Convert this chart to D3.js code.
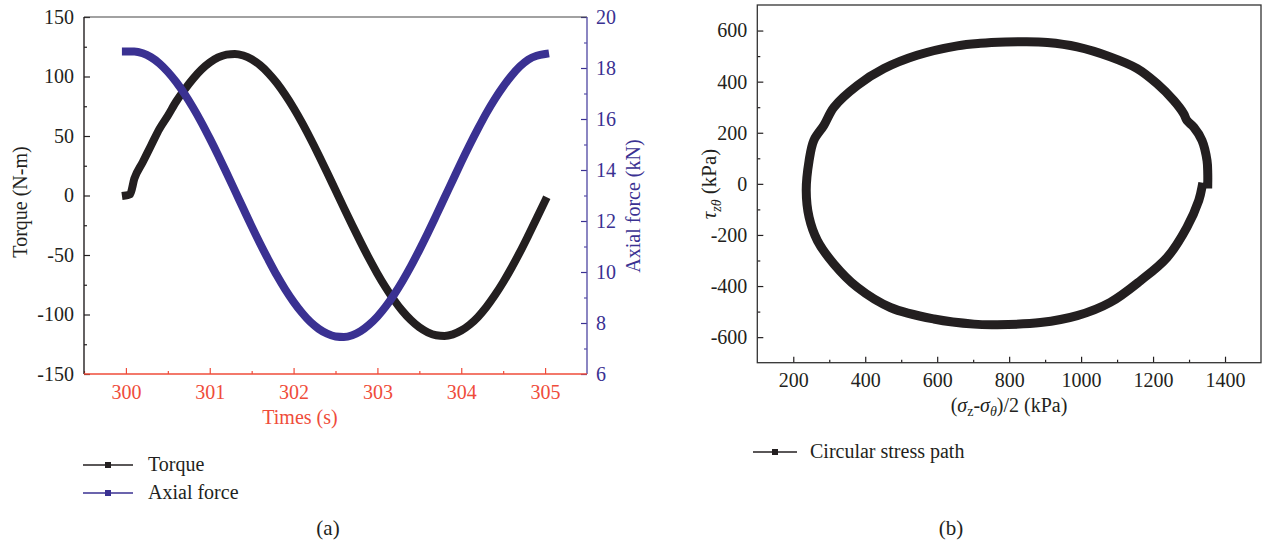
<!DOCTYPE html>
<html>
<head>
<meta charset="utf-8">
<script src="https://cdn.jsdelivr.net/npm/d3@7"></script>
<style>
	body { margin: 0; background: #fff; }
	text { font-family: "Liberation Serif", "DejaVu Serif", serif; fill: #231f20; }
</style>
</head>
<body>
<div id="visual"></div>
<script>

///// DATA /////

// (a) torque and axial force against time
var times = [300.0, 300.05, 300.1, 300.2, 300.3, 300.4, 300.5, 300.6, 300.7, 300.8, 300.9, 301.0,
	301.1, 301.2, 301.3, 301.4, 301.5, 301.6, 301.7, 301.8, 301.9, 302.0,
	302.1, 302.2, 302.3, 302.4, 302.5, 302.6, 302.7, 302.8, 302.9, 303.0,
	303.1, 303.2, 303.3, 303.4, 303.5, 303.6, 303.7, 303.8, 303.9, 304.0,
	304.1, 304.2, 304.3, 304.4, 304.5, 304.6, 304.7, 304.8, 304.9, 305.0];

var torque = [0, 1, 14, 28, 42, 56, 67, 79, 89, 98, 105.7, 111.7,
	116, 118.4, 119, 117.6, 114.5, 109.5, 102.8, 94.5, 84.6, 73.5,
	61.2, 47.9, 33.9, 19.4, 4.5, -10.4, -25, -39.2, -52.9, -65.7,
	-77.5, -88, -97.2, -104.8, -110.8, -115, -117.4, -118, -116.7, -113.5,
	-108.6, -102, -93.7, -83.9, -72.9, -60.7, -47.6, -33.6, -19.2, -4.5];

var axialForce = [18.65, 18.65, 18.65, 18.58, 18.42, 18.18, 17.85, 17.45, 16.98, 16.45, 15.87, 15.24,
	14.58, 13.89, 13.19, 12.49, 11.79, 11.12, 10.48, 9.87, 9.32, 8.83,
	8.40, 8.04, 7.77, 7.58, 7.47, 7.45, 7.52, 7.68, 7.93, 8.25,
	8.65, 9.12, 9.65, 10.23, 10.86, 11.52, 12.21, 12.91, 13.61, 14.31,
	14.98, 15.62, 16.23, 16.78, 17.27, 17.70, 18.06, 18.33, 18.48, 18.55];

var timeTicks = [300, 301, 302, 303, 304, 305];
var torqueTicks = [-150, -100, -50, 0, 50, 100, 150];
var forceTicks = [6, 8, 10, 12, 14, 16, 18, 20];

// (b) circular stress path
var sigmaHalf = [1352, 1352, 1350, 1336, 1313, 1294, 1285, 1257, 1211, 1156, 1081, 989, 906, 841, 790,
	720, 656, 544, 452, 378, 313, 285, 257, 244, 236, 244, 267, 313, 378, 470, 591, 702, 767,
	887, 989, 1081, 1165, 1239, 1294, 1327, 1336];
var tauZT = [0, 40, 91, 170, 222, 248, 275, 327, 392, 451, 497, 536, 553, 556, 555,
	550, 540, 503, 451, 385, 300, 229, 170, 91, -26, -131, -222, -314, -405, -484, -529, -549, -551,
	-543, -516, -464, -379, -288, -170, -65, -13];

var sigmaTicks = [200, 400, 600, 800, 1000, 1200, 1400];
var tauTicks = [-600, -400, -200, 0, 200, 400, 600];

///// COLOURS /////
var black = "#231f20",
	blue = "#3a3192",
	blueAxis = "#5a52a8",
	red = "#ef4c3a";

///// SVG /////
var svg = d3.select("#visual").append("svg")
	.attr("width", 1263)
	.attr("height", 545);

var plain = d => String(d);

///// PANEL (a) /////
var xA = d3.scaleLinear().domain([299.5, 305.5]).range([84, 587]);
var yTorque = d3.scaleLinear().domain([-150, 150]).range([374, 17]);
var yForce = d3.scaleLinear().domain([6, 20]).range([374, 17]);

function styleAxis(g, color, fontSize) {
	g.select(".domain").remove();
	g.selectAll("line").attr("stroke", color).attr("stroke-width", 1.2);
	g.selectAll("text")
		.style("font-family", '"Liberation Serif", serif')
		.style("font-size", fontSize + "px")
		.style("fill", color);
}

// minor ticks
svg.append("g").attr("transform", "translate(84,0)")
	.call(d3.axisLeft(yTorque).tickValues(d3.range(-125, 150, 50)).tickSize(-3).tickFormat(""))
	.call(g => styleAxis(g, black, 20));
svg.append("g").attr("transform", "translate(587,0)")
	.call(d3.axisRight(yForce).tickValues([7, 9, 11, 13, 15, 17, 19]).tickSize(-3).tickFormat(""))
	.call(g => styleAxis(g, blueAxis, 20));
svg.append("g").attr("transform", "translate(0,374)")
	.call(d3.axisBottom(xA).tickValues([299.5, 300.5, 301.5, 302.5, 303.5, 304.5]).tickSize(-3).tickFormat(""))
	.call(g => styleAxis(g, red, 20));

// major ticks
svg.append("g").attr("transform", "translate(84,0)")
	.call(d3.axisLeft(yTorque).tickValues(torqueTicks).tickSize(-6).tickPadding(10).tickFormat(plain))
	.call(g => styleAxis(g, black, 20));
svg.append("g").attr("transform", "translate(587,0)")
	.call(d3.axisRight(yForce).tickValues(forceTicks).tickSize(-6).tickPadding(9).tickFormat(plain))
	.call(g => styleAxis(g, blue, 20));
svg.append("g").attr("transform", "translate(0,374)")
	.call(d3.axisBottom(xA).tickValues(timeTicks).tickSize(-6).tickPadding(11).tickFormat(plain))
	.call(g => styleAxis(g, red, 20));

// frame lines
svg.append("line").attr("x1", 84).attr("x2", 587).attr("y1", 17).attr("y2", 17)
	.attr("stroke", "#444").attr("stroke-width", 1.2);
svg.append("line").attr("x1", 84).attr("x2", 84).attr("y1", 17).attr("y2", 374)
	.attr("stroke", black).attr("stroke-width", 1.4);
svg.append("line").attr("x1", 587).attr("x2", 587).attr("y1", 17).attr("y2", 374)
	.attr("stroke", blueAxis).attr("stroke-width", 1.4);
svg.append("line").attr("x1", 84).attr("x2", 587).attr("y1", 374).attr("y2", 374)
	.attr("stroke", red).attr("stroke-width", 1.4);

// series
var torqueLine = d3.line()
	.x((d, i) => xA(times[i]))
	.y(d => yTorque(d))
	.curve(d3.curveMonotoneX);
var forceLine = d3.line()
	.x((d, i) => xA(times[i]))
	.y(d => yForce(d))
	.curve(d3.curveMonotoneX);

svg.append("path").datum(torque)
	.attr("d", torqueLine)
	.attr("fill", "none").attr("stroke", black).attr("stroke-width", 8)
	.attr("stroke-linecap", "square");
svg.append("path").datum(axialForce)
	.attr("d", forceLine)
	.attr("fill", "none").attr("stroke", blue).attr("stroke-width", 8)
	.attr("stroke-linecap", "square");

// axis titles
svg.append("text")
	.attr("transform", "translate(27,202) rotate(-90)")
	.style("text-anchor", "middle").style("font-size", "20px")
	.text("Torque (N-m)");
svg.append("text")
	.attr("transform", "translate(640,206) rotate(-90)")
	.style("text-anchor", "middle").style("font-size", "20px").style("fill", blue)
	.text("Axial force (kN)");
svg.append("text")
	.attr("x", 300).attr("y", 424)
	.style("text-anchor", "middle").style("font-size", "20px").style("fill", red)
	.text("Times (s)");

///// LEGEND (a) /////
var legendA = [{ name: "Torque", color: black }, { name: "Axial force", color: blue }];
var legA = svg.selectAll(".legA").data(legendA).enter().append("g")
	.attr("class", "legA")
	.attr("transform", (d, i) => "translate(83," + (465 + i * 28) + ")");
legA.append("line").attr("x1", 0).attr("x2", 50)
	.attr("stroke", d => d.color).attr("stroke-width", 1.3);
legA.append("rect").attr("x", 22).attr("y", -3).attr("width", 6).attr("height", 6)
	.attr("fill", d => d.color);
legA.append("text").attr("x", 65).attr("y", 6)
	.style("font-size", "20px")
	.text(d => d.name);

svg.append("text").attr("x", 328).attr("y", 535)
	.style("text-anchor", "middle").style("font-size", "21px")
	.text("(a)");

///// PANEL (b) /////
var xB = d3.scaleLinear().domain([100, 1500]).range([757.3, 1261]);
var yB = d3.scaleLinear().domain([-700, 700]).range([362.7, 5]);

svg.append("g").attr("transform", "translate(757.3,0)")
	.call(d3.axisLeft(yB).tickValues(d3.range(-500, 700, 200)).tickSize(-3).tickFormat(""))
	.call(g => styleAxis(g, black, 20));
svg.append("g").attr("transform", "translate(0,362.7)")
	.call(d3.axisBottom(xB).tickValues(d3.range(300, 1500, 200)).tickSize(-3).tickFormat(""))
	.call(g => styleAxis(g, black, 20));
svg.append("g").attr("transform", "translate(757.3,0)")
	.call(d3.axisLeft(yB).tickValues(tauTicks).tickSize(-6).tickPadding(10).tickFormat(plain))
	.call(g => styleAxis(g, black, 20));
svg.append("g").attr("transform", "translate(0,362.7)")
	.call(d3.axisBottom(xB).tickValues(sigmaTicks).tickSize(-6).tickPadding(10).tickFormat(plain))
	.call(g => styleAxis(g, black, 20));

svg.append("rect")
	.attr("x", xB(100)).attr("y", yB(700))
	.attr("width", xB(1500) - xB(100)).attr("height", yB(-700) - yB(700))
	.attr("fill", "none").attr("stroke", "#333").attr("stroke-width", 1.3);

var pathLine = d3.line()
	.x((d, i) => xB(sigmaHalf[i]))
	.y(d => yB(d))
	.curve(d3.curveCatmullRom);

svg.append("path").datum(tauZT)
	.attr("d", pathLine)
	.attr("fill", "none").attr("stroke", black).attr("stroke-width", 9)
	.attr("stroke-linecap", "square");

// axis titles with greek letters
var yTitleB = svg.append("text")
	.attr("transform", "translate(716,184) rotate(-90)")
	.style("text-anchor", "middle").style("font-size", "21px");
yTitleB.append("tspan").style("font-style", "italic").text("τ");
yTitleB.append("tspan").attr("dy", 5).style("font-size", "14px").style("font-style", "italic").text("zθ");
yTitleB.append("tspan").attr("dy", -5).text(" (kPa)");

var xTitleB = svg.append("text")
	.attr("x", 1009).attr("y", 412)
	.style("text-anchor", "middle").style("font-size", "20px");
xTitleB.append("tspan").text("(");
xTitleB.append("tspan").style("font-style", "italic").text("σ");
xTitleB.append("tspan").attr("dy", 4).style("font-size", "14px").text("z");
xTitleB.append("tspan").attr("dy", -4).text("-");
xTitleB.append("tspan").style("font-style", "italic").text("σ");
xTitleB.append("tspan").attr("dy", 4).style("font-size", "14px").style("font-style", "italic").text("θ");
xTitleB.append("tspan").attr("dy", -4).text(")/2 (kPa)");

///// LEGEND (b) /////
var legB = svg.append("g").attr("transform", "translate(753,452)");
legB.append("line").attr("x1", 0).attr("x2", 44)
	.attr("stroke", black).attr("stroke-width", 1.3);
legB.append("rect").attr("x", 19).attr("y", -3).attr("width", 6).attr("height", 6)
	.attr("fill", black);
legB.append("text").attr("x", 57).attr("y", 6)
	.style("font-size", "20px")
	.text("Circular stress path");

svg.append("text").attr("x", 951).attr("y", 535)
	.style("text-anchor", "middle").style("font-size", "21px")
	.text("(b)");

</script>
</body>
</html>
